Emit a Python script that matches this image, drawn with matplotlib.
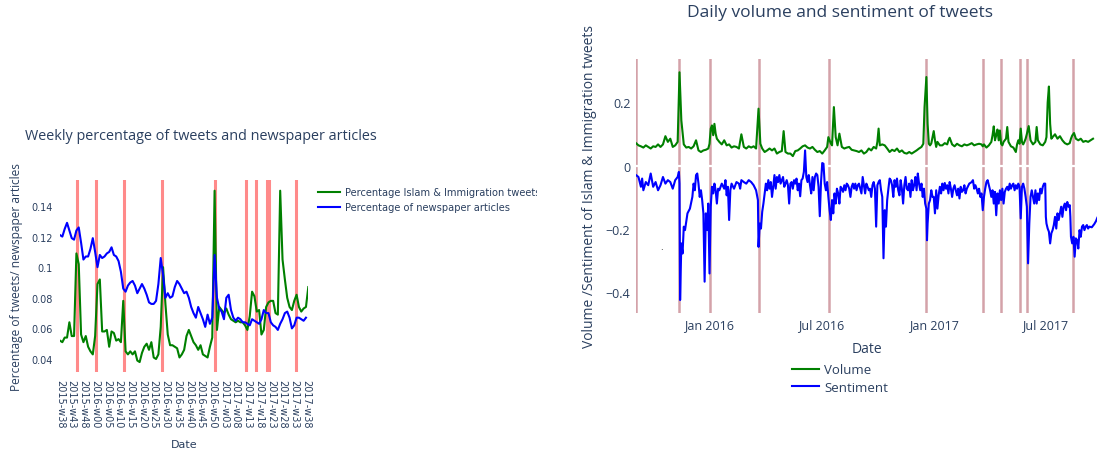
import pandas as pd
import matplotlib.pyplot as plt

TXT = "#2a3f5f"

# ---------------- left chart: weekly percentages ----------------
weeks = ([f"2015-w{w:02d}" for w in range(38, 53)] +
         [f"2016-w{w:02d}" for w in range(0, 53)] +
         [f"2017-w{w:02d}" for w in range(1, 40)])
week_ticks = weeks[::5]

tweets_pct = [0.052, 0.051, 0.054, 0.054, 0.064, 0.055, 0.055, 0.109, 0.102, 0.056,
              0.051, 0.055, 0.048, 0.045, 0.043, 0.055, 0.089, 0.092, 0.058, 0.058,
              0.059, 0.048, 0.058, 0.057, 0.052, 0.053, 0.051, 0.078, 0.045, 0.043,
              0.045, 0.043, 0.045, 0.039, 0.038, 0.044, 0.048, 0.050, 0.046, 0.051,
              0.041, 0.040, 0.043, 0.061, 0.100, 0.076, 0.056, 0.049, 0.049, 0.048,
              0.047, 0.041, 0.043, 0.046, 0.055, 0.059, 0.055, 0.051, 0.049, 0.046,
              0.049, 0.043, 0.042, 0.041, 0.048, 0.054, 0.150, 0.059, 0.074, 0.072,
              0.070, 0.073, 0.069, 0.066, 0.065, 0.064, 0.065, 0.064, 0.064, 0.062,
              0.059, 0.068, 0.084, 0.081, 0.071, 0.072, 0.056, 0.059, 0.074, 0.077,
              0.078, 0.078, 0.070, 0.069, 0.150, 0.105, 0.092, 0.080, 0.074, 0.072,
              0.078, 0.082, 0.074, 0.071, 0.073, 0.074, 0.087]

news_pct = [0.121, 0.120, 0.125, 0.129, 0.124, 0.119, 0.118, 0.124, 0.126, 0.116,
            0.105, 0.107, 0.107, 0.112, 0.119, 0.110, 0.100, 0.108, 0.106, 0.107,
            0.109, 0.110, 0.113, 0.108, 0.107, 0.104, 0.097, 0.086, 0.084, 0.088,
            0.090, 0.091, 0.088, 0.083, 0.086, 0.089, 0.086, 0.082, 0.077, 0.076,
            0.076, 0.078, 0.089, 0.106, 0.095, 0.080, 0.083, 0.080, 0.081, 0.087,
            0.091, 0.089, 0.086, 0.083, 0.084, 0.080, 0.074, 0.070, 0.067, 0.074,
            0.070, 0.066, 0.061, 0.069, 0.063, 0.067, 0.108, 0.080, 0.073, 0.071,
            0.066, 0.080, 0.082, 0.072, 0.067, 0.065, 0.067, 0.066, 0.064, 0.064,
            0.063, 0.062, 0.066, 0.065, 0.064, 0.063, 0.066, 0.072, 0.070, 0.070,
            0.064, 0.062, 0.061, 0.059, 0.063, 0.066, 0.070, 0.071, 0.067, 0.060,
            0.062, 0.067, 0.067, 0.066, 0.065, 0.067]

# event weeks (category positions)
week_events = [7.4, 15.5, 27.3, 43.4, 66.3, 79.4, 83.5, 88.5, 89.3, 100.6]

# ---------------- right chart: daily volume / sentiment ----------------
# days counted from 2016-01-01
vol_day = [-120, -116, -112, -108, -104, -100, -96, -92, -88, -84, -80, -76, -72, -68, -64,
           -60, -56, -52, -49, -46, -42, -38, -34, -30, -26, -22, -18, -14, -10, -6, -2,
           0, 2, 4, 6, 8, 10, 12, 16, 20, 24, 28, 32, 36, 40, 44, 48, 52, 56, 60, 64, 68,
           72, 76, 80, 83, 86, 90, 94, 98, 102, 106, 110, 114, 118, 121, 124, 128, 132,
           136, 140, 144, 148, 152, 156, 160, 164, 168, 172, 176, 180, 184, 188, 192, 194,
           196, 198, 200, 203, 206, 209, 212, 216, 220, 224, 228, 232, 236, 240, 244, 248,
           252, 256, 260, 264, 268, 272, 274, 276, 278, 282, 286, 290, 294, 298, 302, 306,
           310, 314, 318, 322, 326, 330, 334, 338, 342, 346, 349, 351, 354, 356, 358, 360,
           362, 366, 368, 370, 372, 376, 380, 384, 388, 390, 392, 396, 400, 404, 408, 412,
           416, 420, 424, 428, 432, 436, 440, 444, 446, 448, 452, 456, 460, 462, 464, 466,
           468, 470, 472, 474, 476, 478, 480, 484, 486, 488, 492, 496, 500, 502, 504, 506,
           508, 510, 512, 514, 516, 518, 521, 524, 528, 532, 534, 536, 540, 544, 548, 550,
           552, 554, 556, 558, 560, 564, 568, 572, 576, 580, 584, 588, 590, 592, 595, 598,
           602, 606, 610, 614, 618, 622, 626]
vol_val = [0.071, 0.064, 0.061, 0.057, 0.064, 0.059, 0.054, 0.061, 0.059, 0.067, 0.059,
           0.067, 0.093, 0.075, 0.085, 0.059, 0.064, 0.075, 0.295, 0.143, 0.067, 0.057,
           0.059, 0.054, 0.061, 0.080, 0.048, 0.043, 0.048, 0.050, 0.054,
           0.069, 0.117, 0.127, 0.096, 0.132, 0.101, 0.085, 0.075, 0.067, 0.080, 0.064,
           0.067, 0.057, 0.061, 0.059, 0.054, 0.099, 0.059, 0.054, 0.061, 0.057, 0.061,
           0.054, 0.180, 0.069, 0.054, 0.043, 0.048, 0.054, 0.048, 0.054, 0.038, 0.043,
           0.046, 0.109, 0.043, 0.038, 0.038, 0.030, 0.046, 0.048, 0.054, 0.061, 0.064,
           0.057, 0.054, 0.059, 0.050, 0.043, 0.046, 0.038, 0.048, 0.059, 0.090, 0.080,
           0.070, 0.064, 0.185, 0.090, 0.064, 0.101, 0.059, 0.054, 0.057, 0.059, 0.050,
           0.048, 0.046, 0.043, 0.048, 0.038, 0.043, 0.054, 0.048, 0.059, 0.054, 0.075,
           0.117, 0.064, 0.067, 0.064, 0.054, 0.043, 0.050, 0.046, 0.054, 0.043, 0.048,
           0.040, 0.038, 0.043, 0.038, 0.043, 0.048, 0.054, 0.059, 0.069, 0.185, 0.280,
           0.132, 0.069, 0.064, 0.070, 0.109, 0.080, 0.059, 0.075, 0.064, 0.064, 0.071,
           0.067, 0.080, 0.088, 0.067, 0.061, 0.069, 0.064, 0.061, 0.067, 0.064, 0.067,
           0.071, 0.064, 0.067, 0.069, 0.067, 0.061, 0.067, 0.057, 0.064, 0.075, 0.096,
           0.124, 0.080, 0.096, 0.114, 0.080, 0.111, 0.069, 0.064, 0.075, 0.085, 0.122,
           0.075, 0.061, 0.057, 0.043, 0.067, 0.080, 0.069, 0.117, 0.075, 0.067, 0.075,
           0.085, 0.100, 0.125, 0.080, 0.067, 0.075, 0.122, 0.080, 0.067, 0.064, 0.075,
           0.090, 0.200, 0.250, 0.132, 0.085, 0.090, 0.099, 0.085, 0.093, 0.080, 0.071,
           0.067, 0.071, 0.085, 0.095, 0.103, 0.085, 0.080, 0.085, 0.075, 0.078, 0.075,
           0.080, 0.085]

sent_day = [-120, -116, -112, -110, -108, -104, -100, -96, -92, -88, -84, -80, -76, -72,
            -68, -64, -60, -56, -52, -50, -49, -48, -46, -44, -42, -40, -36, -32, -28, -26,
            -24, -22, -20, -18, -16, -14, -12, -10, -8, -6, -4, -2, 0, 2, 4, 6, 8, 10, 12,
            14, 16, 20, 24, 26, 28, 30, 32, 34, 36, 40, 44, 48, 50, 52, 56, 60, 64, 68, 72,
            76, 79, 80, 82, 84, 86, 88, 90, 92, 94, 96, 98, 100, 102, 104, 106, 108, 110,
            112, 114, 116, 118, 120, 122, 124, 126, 128, 130, 132, 134, 136, 138, 140, 142,
            144, 146, 148, 150, 152, 154, 156, 158, 160, 162, 164, 166, 168, 170, 172, 174,
            176, 178, 180, 182, 184, 186, 188, 190, 192, 194, 196, 198, 200, 202, 204, 206,
            208, 210, 212, 214, 216, 218, 220, 222, 224, 226, 228, 230, 232, 234, 236, 238,
            240, 242, 244, 246, 248, 250, 252, 254, 256, 258, 260, 262, 264, 266, 268, 270,
            272, 274, 276, 278, 280, 282, 284, 286, 288, 290, 292, 294, 296, 298, 300, 302,
            304, 306, 308, 310, 312, 314, 316, 318, 320, 322, 324, 326, 328, 330, 332, 334,
            336, 338, 340, 342, 344, 346, 348, 350, 352, 354, 355, 356, 358, 360, 362, 364,
            366, 368, 370, 372, 374, 376, 378, 380, 382, 384, 386, 388, 390, 392, 394, 396,
            398, 400, 402, 404, 406, 408, 410, 412, 414, 416, 418, 420, 424, 428, 430, 432,
            434, 436, 438, 440, 442, 444, 446, 448, 450, 452, 454, 456, 458, 460, 462, 464,
            466, 468, 470, 472, 474, 476, 478, 480, 482, 484, 486, 488, 490, 492, 494, 496,
            498, 500, 502, 504, 506, 508, 510, 512, 514, 516, 518, 520, 522, 524, 526, 528,
            530, 532, 534, 536, 538, 540, 542, 544, 546, 548, 549, 550, 552, 554, 556, 558,
            560, 562, 564, 566, 568, 570, 572, 574, 576, 578, 580, 582, 584, 586, 588, 589,
            590, 592, 594, 596, 598, 600, 602, 604, 606, 608, 610, 612, 614, 616, 618, 620,
            624, 628, 631, 633]
sent_val = [-0.030, -0.036, -0.067, -0.041, -0.078, -0.052, -0.062, -0.025, -0.067, -0.052,
            -0.078, -0.062, -0.036, -0.057, -0.046, -0.052, -0.073, -0.046, -0.036, -0.020,
            -0.057, -0.425, -0.246, -0.278, -0.193, -0.204, -0.151, -0.136, -0.099, -0.057,
            -0.078, -0.030, -0.025, -0.057, -0.099, -0.078, -0.109, -0.151, -0.367, -0.151,
            -0.204, -0.120, -0.341, -0.130, -0.067, -0.088, -0.057, -0.078, -0.120, -0.073,
            -0.078, -0.057, -0.073, -0.046, -0.094, -0.067, -0.172, -0.078, -0.057, -0.073,
            -0.052, -0.057, -0.073, -0.046, -0.052, -0.057, -0.046, -0.052, -0.062, -0.078,
            -0.109, -0.257, -0.183, -0.199, -0.146, -0.120, -0.088, -0.057, -0.078, -0.046,
            -0.073, -0.052, -0.099, -0.067, -0.030, -0.073, -0.036, -0.052, -0.030, -0.057,
            -0.046, -0.036, -0.067, -0.057, -0.046, -0.062, -0.120, -0.057, -0.052, -0.073,
            -0.046, -0.057, -0.041, -0.078, -0.057, -0.097, -0.046, -0.041, -0.020, 0.048,
            -0.036, -0.052, -0.030, -0.062, -0.088, -0.036, -0.078, -0.036, -0.025, -0.030,
            -0.067, -0.160, -0.052, 0.008, 0.006, -0.057, -0.078, -0.052, -0.099, -0.141,
            -0.172, -0.109, -0.151, -0.088, -0.120, -0.073, -0.088, -0.120, -0.067, -0.073,
            -0.083, -0.062, -0.078, -0.057, -0.062, -0.073, -0.099, -0.067, -0.057, -0.073,
            -0.057, -0.078, -0.062, -0.057, -0.073, -0.088, -0.036, -0.062, -0.088, -0.057,
            -0.067, -0.078, -0.073, -0.099, -0.062, -0.052, -0.073, -0.193, -0.062, -0.052,
            -0.046, -0.078, -0.099, -0.293, -0.141, -0.193, -0.109, -0.073, -0.041, -0.046,
            -0.062, -0.099, -0.046, -0.067, -0.041, -0.078, -0.094, -0.046, -0.073, -0.120,
            -0.062, -0.036, -0.073, -0.078, -0.057, -0.099, -0.046, -0.078, -0.062, -0.036,
            -0.078, -0.025, -0.057, -0.078, -0.057, -0.099, -0.073, -0.120, -0.136, -0.236,
            -0.183, -0.120, -0.109, -0.078, -0.099, -0.099, -0.151, -0.078, -0.136, -0.094,
            -0.067, -0.088, -0.057, -0.078, -0.055, -0.073, -0.062, -0.088, -0.052, -0.073,
            -0.099, -0.073, -0.062, -0.078, -0.094, -0.073, -0.104, -0.067, -0.083, -0.078,
            -0.062, -0.088, -0.073, -0.057, -0.052, -0.046, -0.073, -0.062, -0.073, -0.088,
            -0.073, -0.099, -0.088, -0.141, -0.099, -0.073, -0.052, -0.046, -0.062, -0.078,
            -0.099, -0.078, -0.120, -0.083, -0.157, -0.088, -0.120, -0.078, -0.109, -0.073,
            -0.120, -0.083, -0.073, -0.067, -0.078, -0.057, -0.073, -0.062, -0.057, -0.078,
            -0.062, -0.073, -0.057, -0.067, -0.167, -0.067, -0.057, -0.073, -0.099, -0.130,
            -0.309, -0.183, -0.099, -0.078, -0.099, -0.120, -0.078, -0.120, -0.088, -0.109,
            -0.073, -0.088, -0.067, -0.057, -0.057, -0.162, -0.183, -0.199, -0.209, -0.246,
            -0.214, -0.204, -0.188, -0.162, -0.199, -0.151, -0.172, -0.151, -0.130, -0.162,
            -0.130, -0.120, -0.141, -0.115, -0.130, -0.125, -0.162, -0.225, -0.246, -0.225,
            -0.288, -0.230, -0.236, -0.262, -0.204, -0.225, -0.193, -0.188, -0.204, -0.193,
            -0.188, -0.199, -0.193, -0.195, -0.185, -0.175, -0.165]

event_dates = ["2015-09-03", "2015-11-13", "2016-01-01", "2016-03-22", "2016-07-14",
               "2016-12-19", "2017-03-22", "2017-04-20", "2017-05-22", "2017-06-03",
               "2017-08-17"]
date_ticks = ["2016-01-01", "2016-07-01", "2017-01-01", "2017-07-01"]
date_tick_labels = ["Jan 2016", "Jul 2016", "Jan 2017", "Jul 2017"]
sent_ticks = [0.2, 0, -0.2, -0.4]
sent_tick_labels = ["0.2", "0", "\u22120.2", "\u22120.4"]

base = pd.Timestamp("2016-01-01")
vol_dates = base + pd.to_timedelta(vol_day, unit="D")
sent_dates = base + pd.to_timedelta(sent_day, unit="D")

W, H = 1097, 452
fig = plt.figure(figsize=(W / 100, H / 100), dpi=100)


def box(l, t, r, b):
    return [l / W, 1 - b / H, (r - l) / W, (b - t) / H]


# ---- left ----
ax1 = fig.add_axes(box(60, 181, 308.3, 373))
for xv in week_events:
    ax1.axvline(xv, color="#ff8a8a", lw=2.2, zorder=1)
ax1.plot(range(len(tweets_pct)), tweets_pct, color="green", lw=1.5, zorder=3)
ax1.plot(range(len(news_pct)), news_pct, color="blue", lw=1.5, zorder=3)
ax1.set_xlim(0, len(weeks) - 1)
ax1.set_ylim(0.0315, 0.157)
ax1.set_yticks([0.04, 0.06, 0.08, 0.1, 0.12, 0.14])
ax1.set_yticklabels(["0.04", "0.06", "0.08", "0.1", "0.12", "0.14"], color=TXT, fontsize=7)
ax1.set_xticks(range(0, len(weeks), 5))
ax1.set_xticklabels(week_ticks, rotation=270, color=TXT, fontsize=7, ha="center", va="top")
ax1.tick_params(length=0, pad=5)
for s in ax1.spines.values():
    s.set_visible(False)
ax1.set_xlabel("Date", color=TXT, fontsize=8, labelpad=8)
ax1.set_ylabel("Percentage of tweets/ newspaper articles", color=TXT, fontsize=8.6,
               family="Open Sans", labelpad=6)
fig.text(25 / W, 1 - 137 / H, "Weekly percentage of tweets and newspaper articles",
         color=TXT, fontsize=10.4, family="Open Sans", va="center", ha="left")

# legend of the left chart, clipped at the edge of its panel
lg = fig.add_axes(box(0, 0, 537, H))
lg.set_xlim(0, 537)
lg.set_ylim(H, 0)
lg.axis("off")
lg.plot([318, 340], [193, 193], color="green", lw=1.5)
lg.plot([318, 340], [208, 208], color="blue", lw=1.5)
lg.text(345, 193, "Percentage Islam & Immigration tweets", color=TXT, fontsize=7.15,
        va="center", clip_on=True)
lg.text(345, 208, "Percentage of newspaper articles", color=TXT, fontsize=7.15,
        va="center", clip_on=True)

# ---- right ----
ax2 = fig.add_axes(box(636, 60, 1097, 314))
for d in event_dates:
    ax2.axvline(pd.Timestamp(d), color="#d4a2a9", lw=1.8, zorder=1)
ax2.axhline(0, color="white", lw=1.6, zorder=2)
ax2.plot(vol_dates, vol_val, color="green", lw=1.5, zorder=3, label="Volume")
ax2.plot(sent_dates, sent_val, color="blue", lw=1.5, zorder=3, label="Sentiment")
ax2.set_xlim(pd.Timestamp("2015-09-03"), base + pd.Timedelta(days=632.5))
ax2.set_ylim(-0.466, 0.337)
ax2.set_xticks(pd.to_datetime(date_ticks))
ax2.set_xticklabels(date_tick_labels, color=TXT, fontsize=9, family="Open Sans")
ax2.set_yticks(sent_ticks)
ax2.set_yticklabels(sent_tick_labels, color=TXT, fontsize=9, family="Open Sans")
ax2.tick_params(length=0, pad=4)
for s in ax2.spines.values():
    s.set_visible(False)
ax2.set_xlabel("Date", color=TXT, fontsize=10, family="Open Sans", labelpad=7)
ax2.set_ylabel("Volume /Sentiment of Islam & Immigration tweets", color=TXT, fontsize=10,
               family="Open Sans", labelpad=6)
ax2.text(660 / W, 1 - 250 / H, ".", transform=fig.transFigure, fontsize=6, color="black")
fig.text(840 / W, 1 - 13 / H, "Daily volume and sentiment of tweets", color=TXT,
         fontsize=12.5, family="Open Sans", ha="center", va="center")
fig.legend(handles=ax2.get_lines()[-2:], loc="upper left", bbox_to_anchor=(787 / W, 1 - 359 / H),
           frameon=False, prop={"family": "Open Sans", "size": 9.5}, labelcolor=TXT,
           handlelength=2.0, handletextpad=0.4, labelspacing=0.35, borderaxespad=0)

fig.savefig("out.png", dpi=100)
